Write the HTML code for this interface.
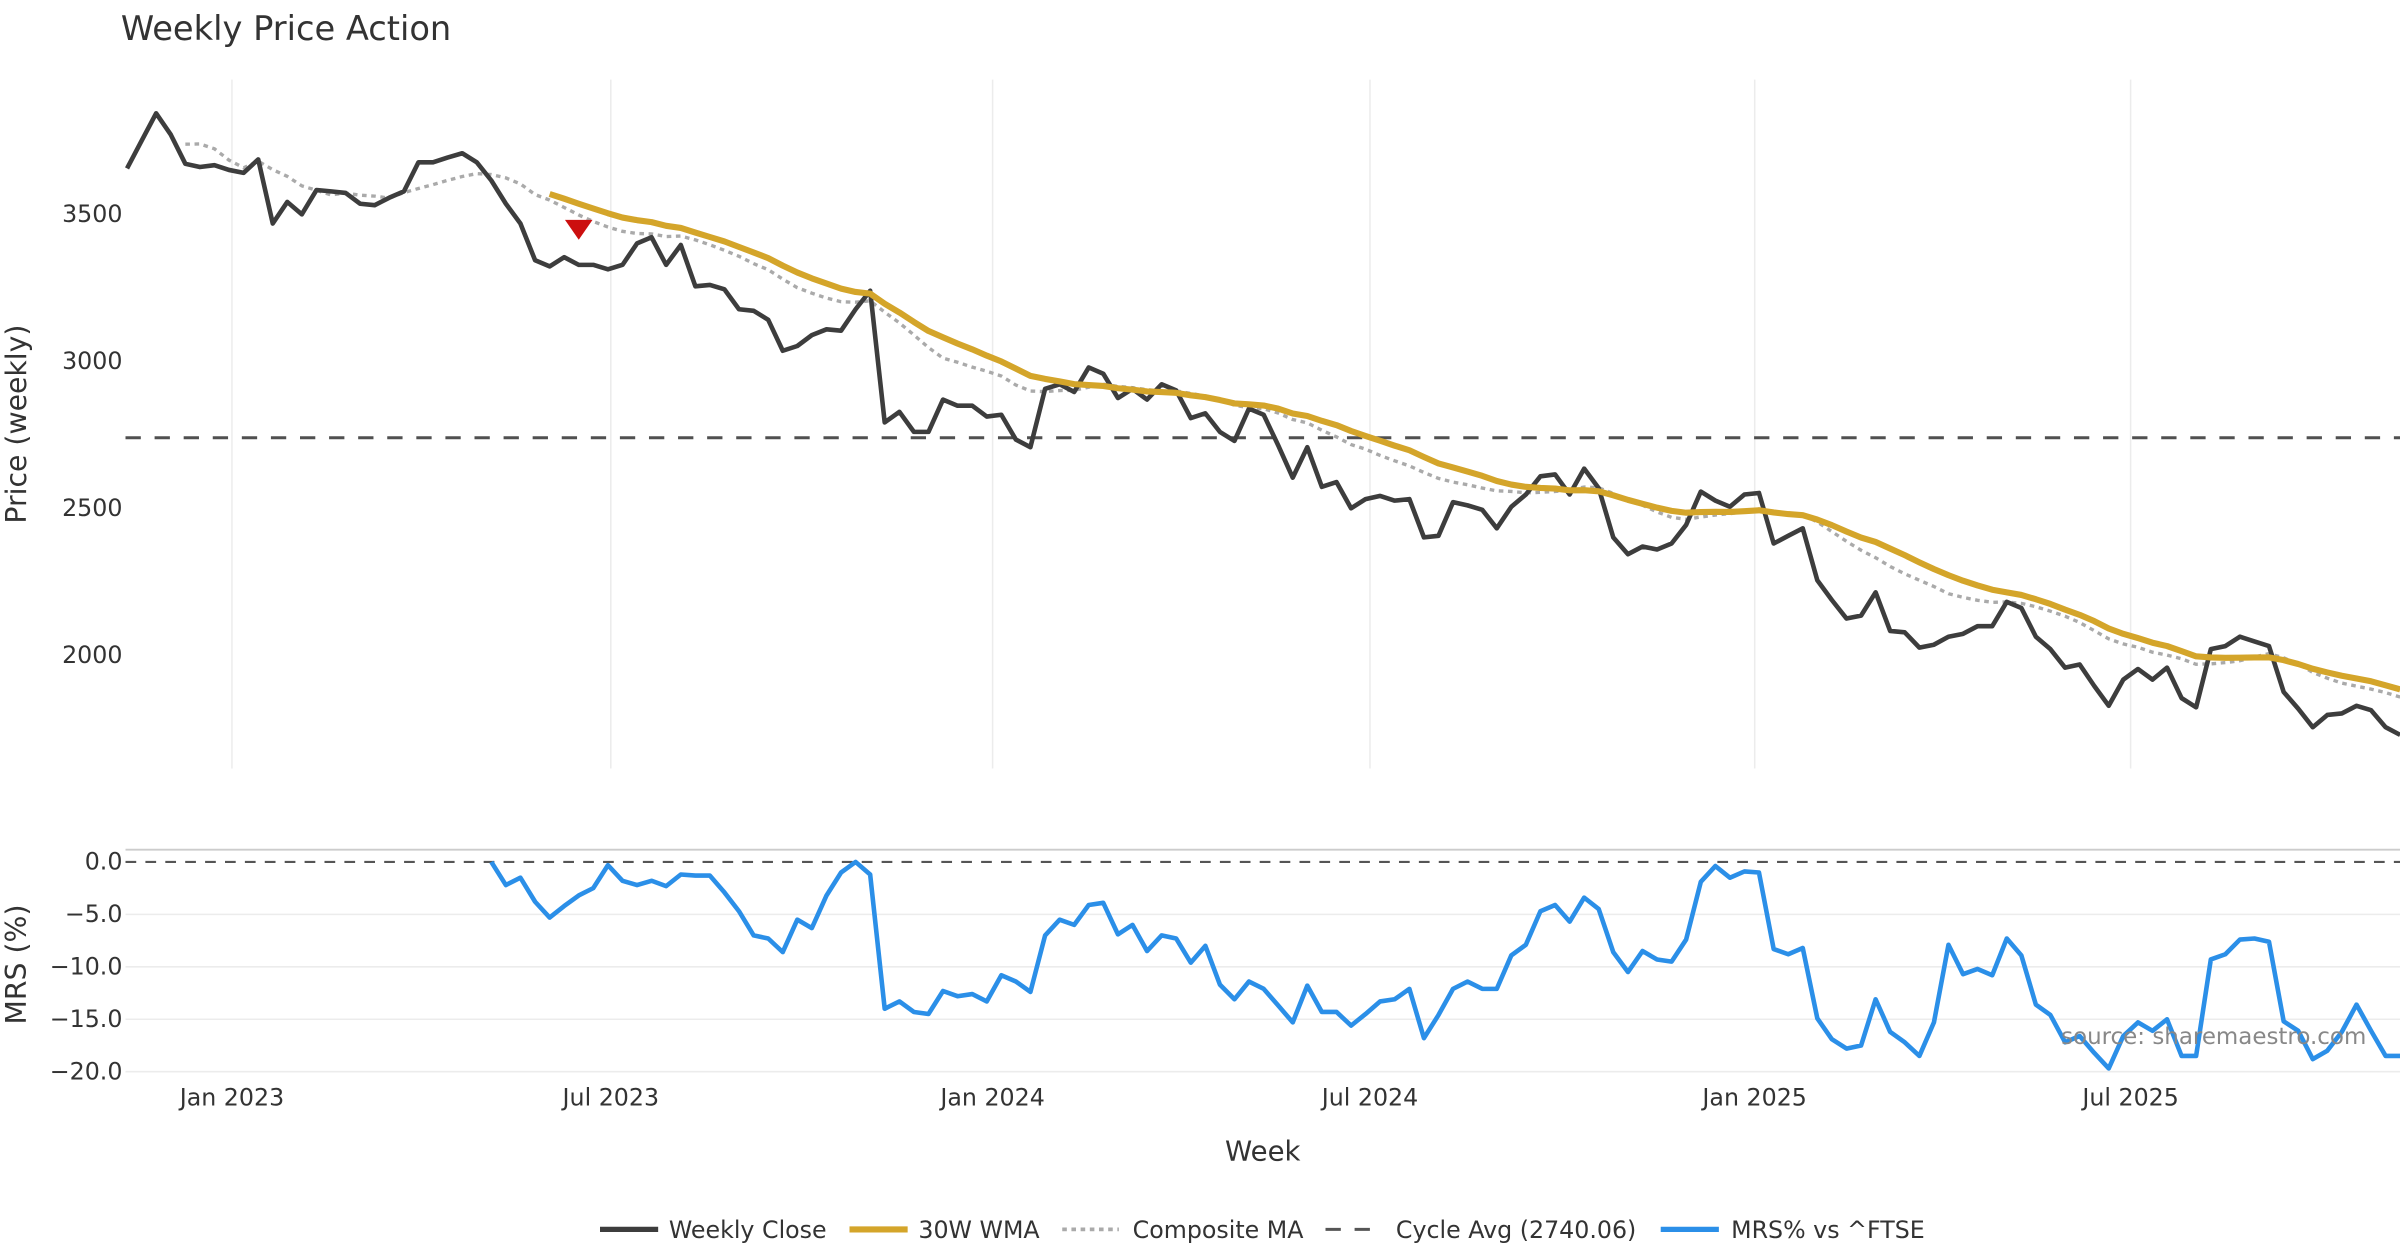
<!DOCTYPE html>
<html><head><meta charset="utf-8"><title>Weekly Price Action</title>
<style>html,body{margin:0;padding:0;background:#fff}svg{display:block;font-family:"DejaVu Sans","Liberation Sans",sans-serif}</style>
</head><body>
<svg id="chart" width="2400" height="1260" viewBox="0 0 1568 823" preserveAspectRatio="none" xmlns="http://www.w3.org/2000/svg">
<rect width="1568" height="823" fill="#fff"/>
<text x="79" y="26" font-size="22" fill="#333">Weekly Price Action</text>
<g id="grid"></g>
<g id="main"></g>
<g id="mrs"></g>
<g id="axes"></g>
<text transform="translate(17,277) rotate(-90)" text-anchor="middle" font-size="18.5" fill="#333">Price (weekly)</text>
<text transform="translate(17,630) rotate(-90)" text-anchor="middle" font-size="18.5" fill="#333">MRS (%)</text>
<text x="825" y="758" text-anchor="middle" font-size="18" fill="#333">Week</text>
<text x="1546" y="682" text-anchor="end" font-size="15" fill="#888">source: sharemaestro.com</text>
<g font-size="15.5" fill="#333">
<g><line x1="392" y1="803" x2="430" y2="803" stroke="#3d3d3d" stroke-width="3.5"/><text x="437" y="808.5">Weekly Close</text></g>
<g><line x1="555" y1="803" x2="593" y2="803" stroke="#d4a52a" stroke-width="4"/><text x="600" y="808.5">30W WMA</text></g>
<g><line x1="694" y1="803" x2="731" y2="803" stroke="#aaa" stroke-width="2.5" stroke-dasharray="3,3"/><text x="740" y="808.5">Composite MA</text></g>
<g><line x1="866" y1="803" x2="902" y2="803" stroke="#555" stroke-width="2" stroke-dasharray="10,9"/><text x="912" y="808.5">Cycle Avg (2740.06)</text></g>
<g><line x1="1085" y1="803" x2="1123" y2="803" stroke="#2b8fe8" stroke-width="3.5"/><text x="1131" y="808.5">MRS% vs ^FTSE</text></g>
</g>
</svg>
<script>
const closes = [3656,3750,3844,3771,3672,3661,3667,3651,3641,3687,3469,3542,3500,3583,3578,3573,3536,3531,3557,3578,3677,3677,3693,3708,3677,3615,3536,3469,3344,3323,3354,3328,3328,3313,3328,3401,3422,3328,3396,3255,3260,3245,3177,3172,3141,3036,3052,3089,3109,3104,3177,3240,2792,2828,2760,2760,2870,2849,2849,2812,2818,2734,2708,2906,2922,2896,2979,2958,2875,2906,2870,2922,2901,2807,2823,2760,2729,2839,2818,2714,2604,2708,2573,2589,2500,2531,2542,2526,2531,2401,2406,2521,2510,2495,2432,2505,2547,2609,2615,2547,2635,2568,2401,2344,2370,2360,2380,2443,2557,2526,2505,2547,2552,2380,2406,2432,2255,2188,2125,2135,2214,2083,2078,2026,2036,2063,2073,2099,2099,2182,2161,2063,2021,1958,1969,1896,1828,1917,1953,1917,1958,1854,1823,2021,2031,2063,2047,2031,1875,1818,1755,1797,1802,1828,1813,1755,1729];
const mrsStart = 25;
const mrsValues = [0,-2.2,-1.5,-3.8,-5.3,-4.2,-3.2,-2.5,-0.3,-1.8,-2.2,-1.8,-2.3,-1.2,-1.3,-1.3,-2.9,-4.7,-7.0,-7.3,-8.6,-5.5,-6.3,-3.2,-1.0,0,-1.2,-14.0,-13.3,-14.3,-14.5,-12.3,-12.8,-12.6,-13.3,-10.8,-11.4,-12.4,-7.0,-5.5,-6.0,-4.1,-3.9,-6.9,-6.0,-8.5,-7.0,-7.3,-9.6,-8.0,-11.7,-13.1,-11.4,-12.1,-13.7,-15.3,-11.8,-14.3,-14.3,-15.6,-14.5,-13.3,-13.1,-12.1,-16.8,-14.6,-12.1,-11.4,-12.1,-12.1,-8.9,-7.9,-4.7,-4.1,-5.7,-3.4,-4.5,-8.6,-10.5,-8.5,-9.3,-9.5,-7.4,-1.9,-0.4,-1.5,-0.9,-1.0,-8.3,-8.8,-8.2,-14.9,-16.9,-17.8,-17.5,-13.1,-16.2,-17.2,-18.5,-15.3,-7.9,-10.7,-10.2,-10.8,-7.3,-8.9,-13.6,-14.6,-17.2,-16.6,-18.2,-19.7,-16.6,-15.3,-16.1,-15.0,-18.5,-18.5,-9.3,-8.8,-7.4,-7.3,-7.6,-15.2,-16.1,-18.8,-18.0,-16.2,-13.6,-16.1,-18.5,-18.5];
const cycleAvg = 2740.06;
const priceTicks = [3500,3000,2500,2000];
const mrsTicks = [0,-5,-10,-15,-20];
const dateTickLabels = ["Jan 2023","Jul 2023","Jan 2024","Jul 2024","Jan 2025","Jul 2025"];
const dateTickWeeks = [7.2,33.2,59.4,85.3,111.7,137.5];
const signalIndex = [31];
const signalValue = [3450];

(function(){
const NS="http://www.w3.org/2000/svg";
const X0=83, DX=9.52, PL=82, PR=1568;
const xs=i=>X0+i*DX;
const yP=v=>140+(3500-v)*0.192;
const yM=v=>563-v*6.85;
function mk(tag,attrs,parent){const e=document.createElementNS(NS,tag);for(const k in attrs)e.setAttribute(k,attrs[k]);parent.appendChild(e);return e;}
const G=id=>document.getElementById(id);

dateTickWeeks.forEach((w,k)=>{
  const l=mk('line',{x1:xs(w),x2:xs(w),y1:52,y2:502,stroke:'#ececec','stroke-width':1},G('grid'));
  
  
  const t=mk('text',{x:xs(w),y:722,'text-anchor':'middle','font-size':15.5,fill:'#333'},G('axes'));
  t.textContent=dateTickLabels[k];
  
  
});
priceTicks.forEach(v=>{
  const t=mk('text',{x:80,y:yP(v)+5,'text-anchor':'end','font-size':15.5,fill:'#333'},G('axes'));
  t.textContent=String(v);
  
  
});
mrsTicks.forEach(v=>{
  if(v!==0){const l=mk('line',{x1:PL,x2:PR,y1:yM(v),y2:yM(v),stroke:'#ececec','stroke-width':1},G('grid'));
  
  }
  const t=mk('text',{x:80,y:yM(v)+5,'text-anchor':'end','font-size':15.5,fill:'#333'},G('axes'));
  t.textContent=(v===0?'0.0':'\u2212'+Math.abs(v).toFixed(1));
  
  
});
const border=mk('line',{x1:PL,x2:PR,y1:555,y2:555,stroke:'#ccc','stroke-width':1.2},G('grid'));


const zl=mk('line',{x1:PL,x2:PR,y1:yM(0),y2:yM(0),stroke:'#555','stroke-width':1.4,'stroke-dasharray':'7,6'},G('grid'));



const wma=[];
for(let i=29;i<closes.length;i++){let s=0,w=0;for(let j=0;j<30;j++){s+=closes[i-j]*(30-j);w+=30-j;}wma.push([i,s/w]);}
const sma=(i,n)=>{if(i<n-1)return null;let s=0;for(let j=0;j<n;j++)s+=closes[i-j];return s/n;};
const comp=[];
for(let i=4;i<closes.length;i++){const a=[sma(i,5),sma(i,10),sma(i,20),sma(i,30)].filter(v=>v!==null);comp.push([i,a.reduce((p,c)=>p+c,0)/a.length]);}

function path(pts,fy){return pts.map((p,k)=>(k?'L':'M')+xs(p[0]).toFixed(1)+','+fy(p[1]).toFixed(1)).join(' ');}

const cyc=mk('line',{x1:PL,x2:PR,y1:yP(cycleAvg),y2:yP(cycleAvg),stroke:'#505050','stroke-width':2,'stroke-dasharray':'10,9'},G('main'));


const cp=mk('path',{d:path(comp,yP),fill:'none',stroke:'#aaa','stroke-width':2.2,'stroke-dasharray':'3,3'},G('main'));


const cl=mk('path',{d:path(closes.map((v,i)=>[i,v]),yP),fill:'none',stroke:'#3d3d3d','stroke-width':3,'stroke-linejoin':'round'},G('main'));


const wl=mk('path',{d:path(wma,yP),fill:'none',stroke:'#d4a52a','stroke-width':4,'stroke-linejoin':'round'},G('main'));


signalIndex.forEach((si,k)=>{
  const x=xs(si),y=yP(signalValue[k]);
  const tri=mk('path',{d:`M${x-9},${y-6} L${x+9},${y-6} L${x},${y+7} Z`,fill:'#cc0f0f'},G('main'));
  
  
});
const ml=mk('path',{d:path(mrsValues.map((v,k)=>[mrsStart+k,v]),yM),fill:'none',stroke:'#2b8fe8','stroke-width':3,'stroke-linejoin':'round'},G('mrs'));


})();
</script>
</body></html>
